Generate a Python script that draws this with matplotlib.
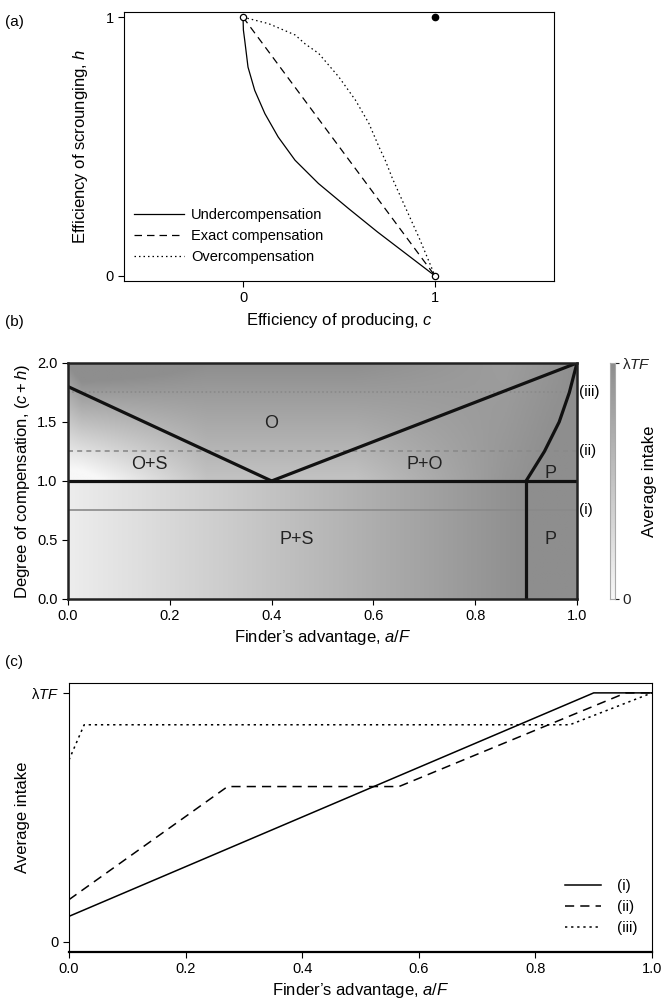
import numpy as np
import matplotlib
matplotlib.use('Agg')
from matplotlib import pyplot as plt
from matplotlib.colors import LinearSegmentedColormap

plt.rcParams['font.family'] = ['Liberation Sans', 'DejaVu Sans']
plt.rcParams['mathtext.fontset'] = 'custom'
plt.rcParams['mathtext.rm'] = 'Liberation Sans'
plt.rcParams['mathtext.it'] = 'Liberation Sans:italic'

# (a) trade-off curves
under_c = [0.0, 0.002, 0.009, 0.026, 0.061, 0.114, 0.183, 0.271, 0.393, 0.55, 0.7, 0.85, 1.0]
under_h = [1.0, 0.95, 0.91, 0.807, 0.717, 0.627, 0.537, 0.447, 0.357, 0.26, 0.17, 0.085, 0.0]
exact_c = [0.0, 1.0]
exact_h = [1.0, 0.0]
over_c = [0.0, 0.133, 0.272, 0.323, 0.394, 0.499, 0.586, 0.656, 0.708, 0.742, 0.778, 0.848, 0.918, 1.0]
over_h = [1.0, 0.975, 0.931, 0.897, 0.86, 0.769, 0.679, 0.589, 0.499, 0.445, 0.377, 0.261, 0.146, 0.0]

# (b) region boundaries
left_x, left_y = [0.0, 0.4], [1.8, 1.0]
right_x, right_y = [0.4, 1.0], [1.0, 2.0]
curve_x = [0.9, 0.936, 0.965, 0.985, 1.0]
curve_y = [1.0, 1.25, 1.5, 1.75, 2.0]
ref_levels = [0.75, 1.25, 1.75]
ref_names = ['(i)', '(ii)', '(iii)']
regions = ['O', 'O+S', 'P+O', 'P', 'P+S', 'P']
region_x = [0.40, 0.16, 0.70, 0.948, 0.449, 0.948]
region_y = [1.49, 1.14, 1.14, 1.06, 0.50, 0.50]

# (c) average intake along the three lines
i_x, i_y = [0.0, 0.9, 1.0], [0.103, 1.0, 1.0]
ii_x, ii_y = [0.0, 0.272, 0.566, 0.955, 1.0], [0.17, 0.624, 0.624, 1.0, 1.0]
iii_x, iii_y = [0.0, 0.026, 0.859, 1.0], [0.731, 0.872, 0.872, 1.0]

fig = plt.figure(figsize=(6.61, 10.08), dpi=100)

# ---------------- (a)
ax = fig.add_axes([0.1876, 0.7212, 0.6505, 0.2669])
ax.plot(under_c, under_h, color='black', lw=0.9, label='Undercompensation')
ax.plot(exact_c, exact_h, color='black', lw=0.9, dashes=(6, 4), label='Exact compensation')
ax.plot(over_c, over_h, color='black', lw=0.9, dashes=(1.2, 2.4), label='Overcompensation')
ax.plot([0, 1], [1, 0], 'o', ms=4.5, mfc='white', mec='black', mew=0.9, zorder=5)
ax.plot([1], [1], 'o', ms=4.5, color='black', zorder=5)
ax.set_xlim(-0.62, 1.62)
ax.set_ylim(-0.02, 1.02)
ax.set_xticks([0, 1])
ax.set_yticks([0, 1])
ax.set_xlabel('Efficiency of producing, $c$', fontsize=12, labelpad=4)
ax.set_ylabel('Efficiency of scrounging, $h$', fontsize=12, labelpad=11)
ax.legend(loc='lower left', bbox_to_anchor=(0.01, 0.04), frameon=False,
          prop={'size': 10.5}, handlelength=3.4, labelspacing=0.5,
          handletextpad=0.5, borderaxespad=0)
ax.tick_params(length=4, width=0.8, labelsize=10.5)
fig.text(0.008, 0.985, '(a)', fontsize=11, va='top')

# ---------------- (b)
cmap = LinearSegmentedColormap.from_list('gr', ['#f8f8f8', '#8e8e8e'])
ax = fig.add_axes([0.1029, 0.4058, 0.770, 0.2341])
xg = np.linspace(0, 1, 400)
yg = np.linspace(0, 2, 400)
p1 = np.interp(xg, i_x, i_y)
p2 = np.interp(xg, ii_x, ii_y)
p3 = np.interp(xg, iii_x, iii_y)
field = np.empty((yg.size, xg.size))
for k, yv in enumerate(yg):
    if yv < 1.0:
        field[k] = p1
    else:
        t = (yv - 1.25) / 0.5
        field[k] = p2 + t * (p3 - p2)
field = np.clip(field, 0, 1)
ax.imshow(field, origin='lower', extent=[0, 1, 0, 2], aspect='auto', cmap=cmap,
          vmin=0, vmax=1, interpolation='bilinear')
styles = ['-', (0, (3, 2.5)), (0, (1, 1.5))]
for lev, name, ls in zip(ref_levels, ref_names, styles):
    ax.plot([0, 1], [lev, lev], color='#8a8a8a', lw=1.2, ls=ls)
    ax.text(1.004, lev, name, fontsize=11, va='center', ha='left')
ax.plot(left_x, left_y, color='#111111', lw=2.3)
ax.plot(right_x, right_y, color='#111111', lw=2.3)
ax.plot([0, 1], [1, 1], color='#111111', lw=2.3)
ax.plot([0.9, 0.9], [0, 1], color='#111111', lw=2.3)
ax.plot(curve_x, curve_y, color='#111111', lw=2.3)
for name, rx, ry in zip(regions, region_x, region_y):
    ax.text(rx, ry, name, fontsize=13, ha='center', va='center', color='#222222')
ax.set_xlim(0, 1)
ax.set_ylim(0, 2)
ax.set_xticks(np.arange(0, 1.01, 0.2))
ax.set_yticks(np.arange(0, 2.01, 0.5))
ax.set_xticklabels(['0.0', '0.2', '0.4', '0.6', '0.8', '1.0'])
ax.set_yticklabels(['0.0', '0.5', '1.0', '1.5', '2.0'])
for s in ax.spines.values():
    s.set_linewidth(1.8)
    s.set_color('#222222')
ax.tick_params(length=4, width=0.8, labelsize=10.5)
ax.set_xlabel('Finder\u2019s advantage, $a/F$', fontsize=12, labelpad=3)
ax.set_ylabel('Degree of compensation, ($c+h$)', fontsize=12, labelpad=4)
fig.text(0.008, 0.6875, '(b)', fontsize=11, va='top')

# colour bar
cax = fig.add_axes([0.923, 0.4058, 0.008, 0.2341])
cax.imshow(np.linspace(0, 1, 200)[:, None], origin='lower', extent=[0, 1, 0, 1],
           aspect='auto', cmap=cmap, vmin=0, vmax=1)
for s in cax.spines.values():
    s.set_color('#aaaaaa')
    s.set_linewidth(0.8)
cax.set_xticks([])
cax.yaxis.tick_right()
cax.set_yticks([0, 1])
cax.set_yticklabels(['0', '\u03bb$TF$'], fontsize=11)
cax.tick_params(axis='y', length=3, width=0.8, colors='#222222', pad=2)
cax.yaxis.set_label_position('right')
cax.set_ylabel('Average intake', fontsize=12, labelpad=-7)

# ---------------- (c)
ax = fig.add_axes([0.1044, 0.0556, 0.882, 0.2669])
ax.plot(i_x, i_y, color='black', lw=1.1, label='(i)')
ax.plot(ii_x, ii_y, color='black', lw=1.1, dashes=(6, 4), label='(ii)')
ax.plot(iii_x, iii_y, color='black', lw=1.1, dashes=(1.5, 2.5), label='(iii)')
ax.set_xlim(0, 1)
ax.set_ylim(-0.04, 1.04)
ax.set_xticks(np.arange(0, 1.01, 0.2))
ax.set_xticklabels(['0.0', '0.2', '0.4', '0.6', '0.8', '1.0'])
ax.set_yticks([0, 1])
ax.set_yticklabels(['0', '\u03bb$TF$'])
ax.tick_params(length=4, width=0.8, labelsize=10.5)
ax.spines['bottom'].set_linewidth(1.6)
ax.set_xlabel('Finder\u2019s advantage, $a/F$', fontsize=12, labelpad=3)
ax.set_ylabel('Average intake', fontsize=12)
ax.yaxis.set_label_coords(-0.067, 0.5)
ax.legend(loc='lower right', bbox_to_anchor=(0.985, 0.04), frameon=False,
          prop={'size': 11}, handlelength=2.4, labelspacing=0.45,
          handletextpad=1.0, borderaxespad=0)
fig.text(0.008, 0.350, '(c)', fontsize=11, va='top')

plt.savefig('out.png', dpi=100)
